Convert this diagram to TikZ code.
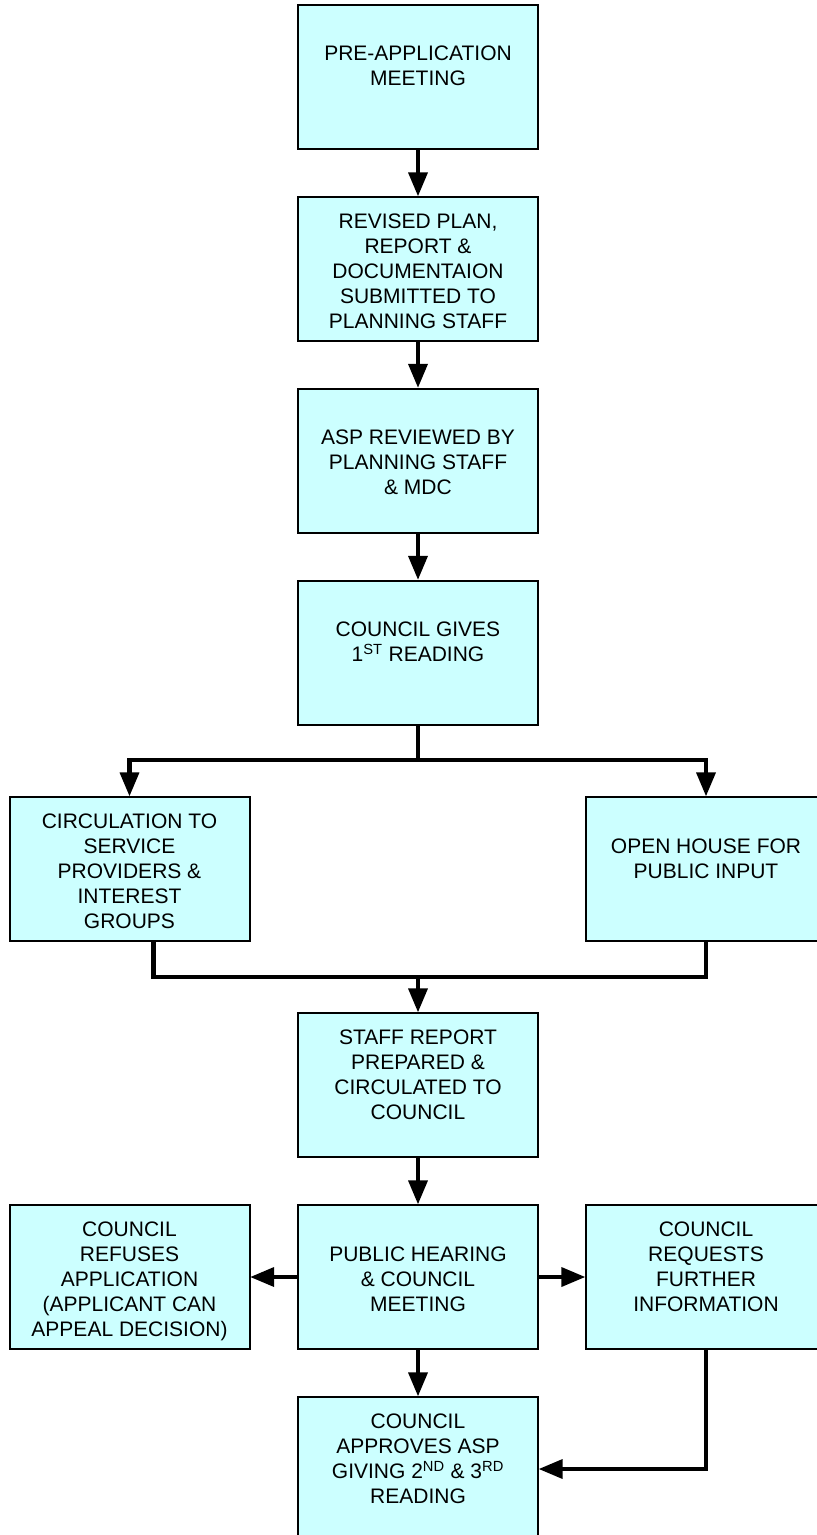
\documentclass[tikz,border=0pt]{standalone}
\usepackage{fontspec}
\setmainfont{Liberation Sans}
\usepackage{tikz}
\usetikzlibrary{arrows}

\definecolor{boxfill}{RGB}{204,255,255}
\newcommand{\steptext}[1]{\parbox[c][108pt][t]{180pt}{\centering\rule{0pt}{23.3pt}#1}}
\tikzset{
  stepbox/.style={draw, line width=1.5pt, fill=boxfill, inner sep=0pt,
    font=\fontsize{15.75}{18.75}\selectfont},
  link/.style={line width=3.2pt}
}

\begin{document}
\begin{tikzpicture}[x=0.75pt, y=-0.75pt, >=triangle 45]
      \useasboundingbox (0,0) rectangle (817,1535);
      \node[stepbox] (meet) at (418,76.5) {\steptext{~\\PRE-APPLICATION\\MEETING}};
      \node[stepbox] (revised) at (418,269) {\steptext{REVISED PLAN,\\REPORT \&\\DOCUMENTAION\\SUBMITTED TO\\PLANNING STAFF}};
      \node[stepbox] (review) at (418,460.5) {\steptext{~\\ASP REVIEWED BY\\PLANNING STAFF\\\& MDC}};
      \node[stepbox] (first) at (418,652.5) {\steptext{~\\COUNCIL GIVES\\1\textsuperscript{ST} READING}};
      \node[stepbox] (circ) at (129.5,869) {\steptext{CIRCULATION TO\\SERVICE\\PROVIDERS \&\\INTEREST\\GROUPS}};
      \node[stepbox] (open) at (706,869) {\steptext{~\\OPEN HOUSE FOR\\PUBLIC INPUT}};
      \node[stepbox] (staff) at (418,1085) {\steptext{STAFF REPORT\\PREPARED \&\\CIRCULATED TO\\COUNCIL}};
      \node[stepbox] (hearing) at (418,1277) {\steptext{~\\PUBLIC HEARING\\\& COUNCIL\\MEETING}};
      \node[stepbox] (refuse) at (129.5,1277) {\steptext{COUNCIL\\REFUSES\\APPLICATION\\(APPLICANT CAN\\APPEAL DECISION)}};
      \node[stepbox] (request) at (706,1277) {\steptext{COUNCIL\\REQUESTS\\FURTHER\\INFORMATION}};
      \node[stepbox] (approve) at (418,1469) {\steptext{COUNCIL\\APPROVES ASP\\GIVING 2\textsuperscript{ND} \& 3\textsuperscript{RD}\\READING}};
      \coordinate (split) at (418,760);
      \coordinate (merge) at (418,977);
      \coordinate (circdrop) at ([xshift=18pt]circ.south);
      \draw [link, ->] (meet) -- (revised);
      \draw [link, ->] (revised) -- (review);
      \draw [link, ->] (review) -- (first);
      \draw [link] (first) -- (split);
      \draw [link, ->] (split) -| (circ); % to circulation
      \draw [link, ->] (split) -| (open); % to open house
      \draw [link] (circdrop) |- (merge) -| (open.south);
      \draw [link, ->] (merge) -- (staff);
      \draw [link, ->] (staff) -- (hearing);
      \draw [link, ->] (hearing) -- (refuse);
      \draw [link, ->] (hearing) -- (request);
      \draw [link, ->] (hearing) -- (approve);
      \draw [link, ->] (request) |- (approve); % further info loop
    \end{tikzpicture}
\end{document}
